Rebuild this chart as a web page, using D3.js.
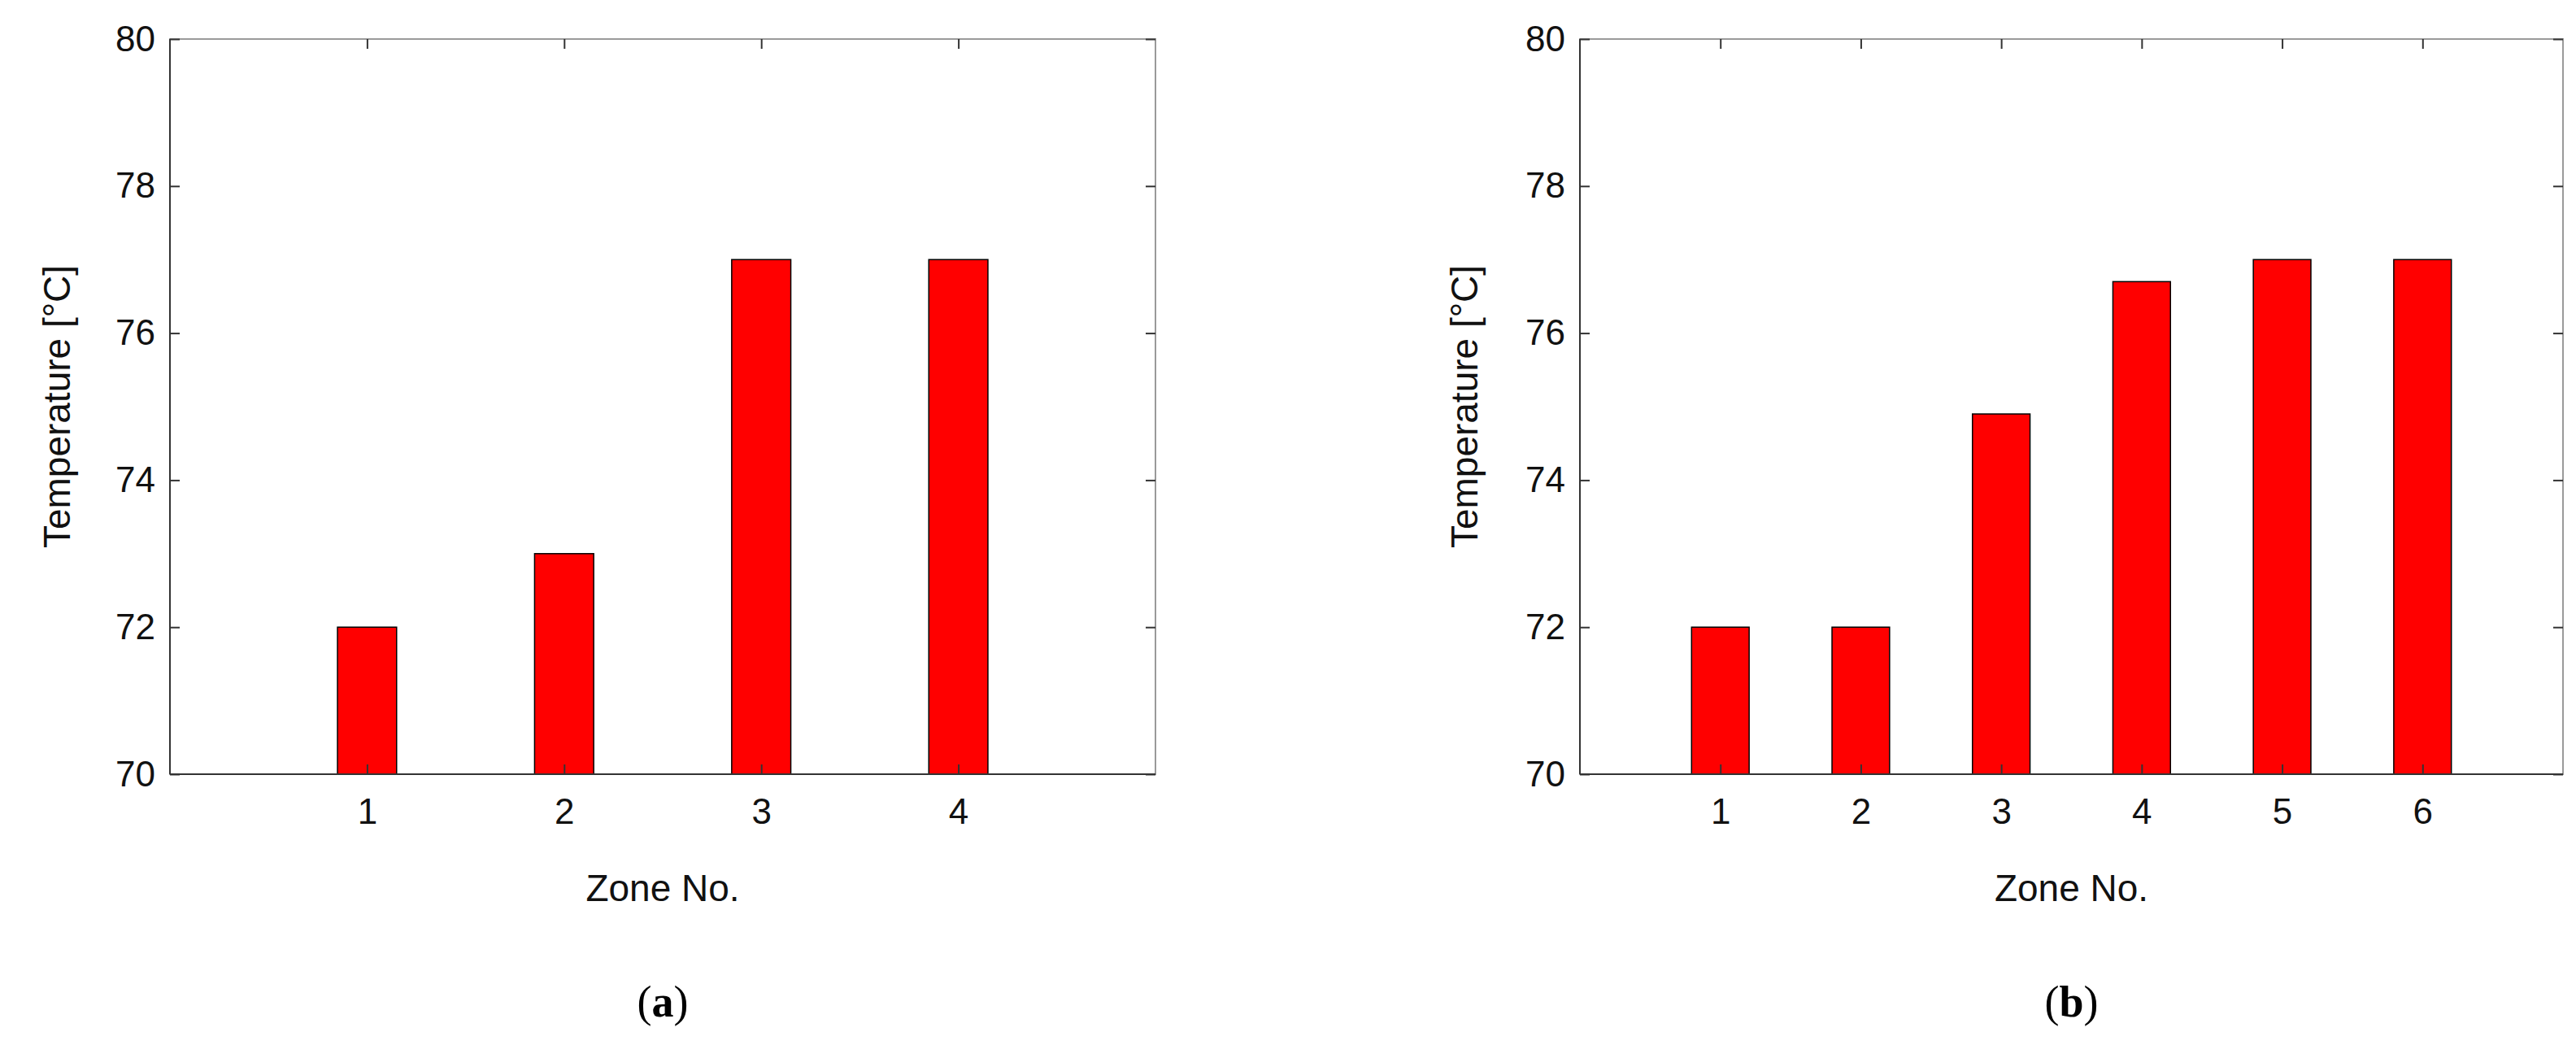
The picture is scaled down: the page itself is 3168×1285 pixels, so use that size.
<!DOCTYPE html>
<html><head><meta charset="utf-8">
<script src="https://cdn.jsdelivr.net/npm/d3@7"></script>
<style>body{margin:0;background:#fff}svg{display:block}</style>
</head><body>
<script>
const zonesA = [1, 2, 3, 4];
const valuesA = [72, 73, 77, 77];
const zonesB = [1, 2, 3, 4, 5, 6];
const valuesB = [72, 72, 74.9, 76.7, 77, 77];
const yTicks = [70, 72, 74, 76, 78, 80];
const panelLabels = ["a", "b"];

const W = 3168, H = 1285;
const svg = d3.select("body").append("svg").attr("width", W).attr("height", H);
const font = "Liberation Sans, Arial, sans-serif";

function panel(x0, x1, zones, vals, xmax, bw, ylabX, tag) {
  const top = 48, bot = 952;
  const x = d3.scaleLinear().domain([0, xmax]).range([x0, x1]);
  const y = d3.scaleLinear().domain([70, 80]).range([bot, top]);
  const g = svg.append("g");
  g.append("rect").attr("x", x0).attr("y", top).attr("width", x1 - x0).attr("height", bot - top)
    .attr("fill", "none").attr("stroke", "#9a9a9a").attr("stroke-width", 2);
  g.selectAll("rect.bar").data(vals).join("rect").attr("class", "bar")
    .attr("x", (d, i) => x(zones[i] - bw / 2)).attr("width", x(bw) - x(0))
    .attr("y", d => y(d)).attr("height", d => y(70) - y(d))
    .attr("fill", "#ff0000").attr("stroke", "#000").attr("stroke-width", 1.5);
  g.append("line").attr("x1", x0).attr("x2", x1).attr("y1", bot).attr("y2", bot).attr("stroke", "#333").attr("stroke-width", 2);
  g.append("line").attr("x1", x0).attr("x2", x0).attr("y1", top).attr("y2", bot).attr("stroke", "#333").attr("stroke-width", 2);
  const ax = g.append("g").attr("transform", `translate(0,${bot})`)
    .call(d3.axisBottom(x).tickValues(zones).tickSize(-12).tickPadding(30).tickFormat(d3.format("d")));
  ax.select(".domain").remove();
  ax.selectAll("text").attr("font-family", font).attr("font-size", 44).attr("fill", "#111");
  const axT = g.append("g").attr("transform", `translate(0,${top})`)
    .call(d3.axisTop(x).tickValues(zones).tickSize(-12).tickFormat(""));
  axT.select(".domain").remove();
  const ay = g.append("g").attr("transform", `translate(${x0},0)`)
    .call(d3.axisLeft(y).tickValues(yTicks).tickSize(-12).tickPadding(18).tickFormat(d3.format("d")));
  ay.select(".domain").remove();
  ay.selectAll("text").attr("font-family", font).attr("font-size", 44).attr("fill", "#111");
  const ayR = g.append("g").attr("transform", `translate(${x1},0)`)
    .call(d3.axisRight(y).tickValues(yTicks).tickSize(-12).tickFormat(""));
  ayR.select(".domain").remove();
  g.selectAll(".tick line").attr("stroke", "#333").attr("stroke-width", 2);
  g.append("text").attr("x", (x0 + x1) / 2).attr("y", 1108).attr("text-anchor", "middle")
    .attr("font-family", font).attr("font-size", 46).attr("fill", "#111").text("Zone No.");
  g.append("text").attr("transform", `translate(${ylabX},${(top + bot) / 2}) rotate(-90)`)
    .attr("text-anchor", "middle").attr("font-family", font).attr("font-size", 46).attr("fill", "#111")
    .text("Temperature [°C]");
  const t = g.append("text").attr("x", (x0 + x1) / 2).attr("y", 1250).attr("text-anchor", "middle")
    .attr("font-family", "Liberation Serif, Times New Roman, serif").attr("font-size", 54).attr("fill", "#000");
  t.append("tspan").text("(");
  t.append("tspan").attr("font-weight", "bold").text(tag);
  t.append("tspan").text(")");
}
panel(209, 1421, zonesA, valuesA, 5, 0.3, 86, panelLabels[0]);
panel(1943, 3152, zonesB, valuesB, 7, 0.41, 1817, panelLabels[1]);
</script>
</body></html>
